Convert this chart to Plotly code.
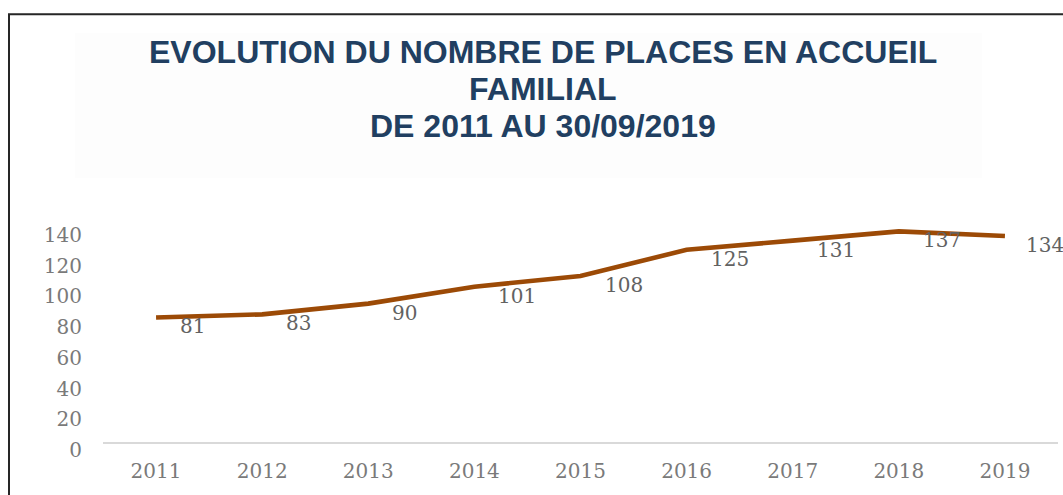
import plotly.graph_objects as go

years = ["2011", "2012", "2013", "2014", "2015", "2016", "2017", "2018", "2019"]
places = [81, 83, 90, 101, 108, 125, 131, 137, 134]
y_ticks = [0, 20, 40, 60, 80, 100, 120, 140]
title_lines = ["EVOLUTION DU NOMBRE DE PLACES EN ACCUEIL", "FAMILIAL", "DE 2011 AU 30/09/2019"]

W, H = 1063, 495
ML, MR, MT, MB = 103, 5, 196, 53
PW = W - ML - MR
PH = H - MT - MB


def px_x(px):
    return (px - ML) / PW


def px_y(py):
    return (H - MB - py) / PH


fig = go.Figure()
fig.add_trace(go.Scatter(
    x=years, y=places, mode="lines",
    line=dict(color="#9c4a06", width=4.6),
    hoverinfo="skip", showlegend=False,
))

label_font = dict(family="DejaVu Serif", size=20, color="#626262")
annotations = []
for i, v in enumerate(places):
    last = i == len(places) - 1
    annotations.append(dict(
        x=i, y=v, xref="x", yref="y", text=str(v), showarrow=False,
        xanchor="left", yanchor="middle", xshift=19 if last else 22, yshift=-9,
        font=label_font,
    ))

title_font = dict(family="Liberation Sans", size=32, color="#213f61")
for line, py in zip(title_lines, [52, 89, 126]):
    annotations.append(dict(
        x=px_x(543), y=px_y(py), xref="paper", yref="paper", text="<b>%s</b>" % line,
        showarrow=False, xanchor="center", yanchor="middle", font=title_font,
    ))

shapes = [
    dict(type="rect", xref="paper", yref="paper", layer="below",
         x0=px_x(75), x1=px_x(982), y0=px_y(33), y1=px_y(178),
         fillcolor="#fdfdfd", line=dict(width=0)),
    dict(type="rect", xref="paper", yref="paper",
         x0=px_x(9), x1=px_x(W + 20), y0=px_y(14.3), y1=px_y(H + 20),
         fillcolor="rgba(0,0,0,0)", line=dict(color="#262626", width=2)),
]

tick_font = dict(family="DejaVu Serif", size=20, color="#7a7a7a")
fig.update_layout(
    width=W, height=H,
    margin=dict(l=ML, r=MR, t=MT, b=MB, pad=0),
    paper_bgcolor="white", plot_bgcolor="white",
    showlegend=False,
    annotations=annotations, shapes=shapes,
    xaxis=dict(
        type="category", range=[-0.5, 8.5], showgrid=False, zeroline=False,
        showline=True, linecolor="#d9d9d9", linewidth=1.5,
        ticks="", tickfont=tick_font, ticklabelstandoff=10,
    ),
    yaxis=dict(
        range=[0, 160], tickvals=y_ticks, showgrid=False, zeroline=False,
        showline=False, ticks="", tickfont=tick_font,
        ticklabelstandoff=20, ticklabelshift=8,
    ),
)

fig.write_html(
    "out.html",
    config={"displayModeBar": False},
    post_script="document.body.style.margin='0';document.body.style.overflow='hidden';",
)
